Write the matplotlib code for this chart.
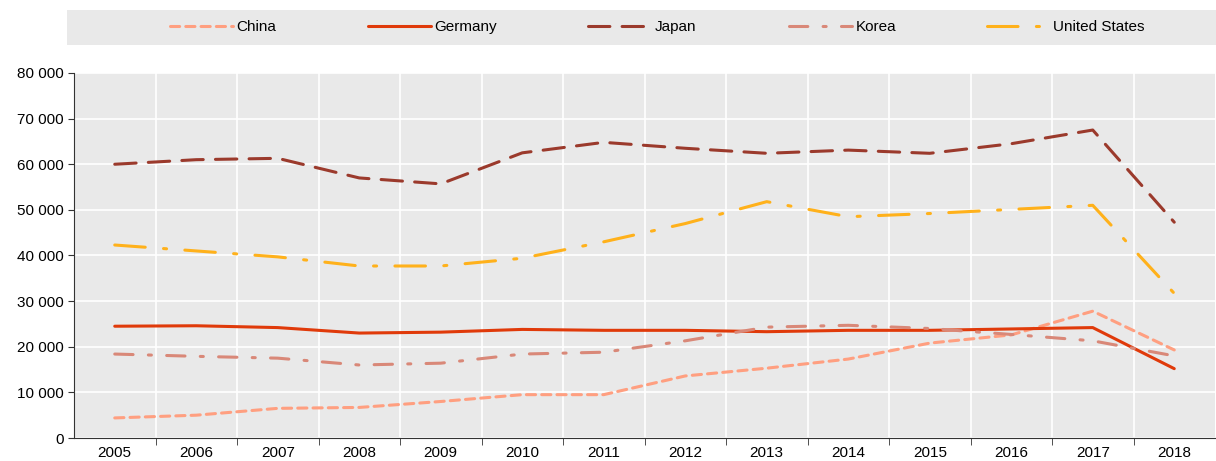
import matplotlib.pyplot as plt
from matplotlib.patches import Rectangle
from matplotlib.ticker import FuncFormatter, MultipleLocator

plt.rcParams['font.family'] = ['Liberation Sans', 'DejaVu Sans']

# data
years = list(range(2005, 2019))
china = [4400, 5000, 6500, 6700, 8000, 9500, 9500, 13600, 15300, 17300, 20800, 22600, 27800, 19300]
germany = [24500, 24600, 24200, 23000, 23200, 23800, 23600, 23600, 23300, 23600, 23600, 23900, 24200, 15200]
japan = [60000, 61000, 61300, 57000, 55700, 62500, 64800, 63500, 62400, 63100, 62400, 64500, 67500, 47300]
korea = [18400, 17900, 17500, 16000, 16400, 18400, 18800, 21300, 24300, 24700, 24000, 22700, 21300, 18000]
usa = [42300, 41000, 39700, 37700, 37700, 39400, 43000, 47000, 51800, 48500, 49200, 50100, 51000, 31700]

series = [
    ("China", china, "#FF9F80", (0, (3, 2))),
    ("Germany", germany, "#E03A0A", "-"),
    ("Japan", japan, "#9B3A2C", (0, (7, 4))),
    ("Korea", korea, "#D98878", (0, (6, 5, 1, 5))),
    ("United States", usa, "#FFB11B", (0, (10, 6, 1, 6))),
]
# left edge of each legend handle, in pixels
legend_x = [170, 368, 588, 789, 987]

fig = plt.figure(figsize=(12.16, 4.61), dpi=100)
ax = fig.add_axes([74 / 1216, 23 / 461, 1141 / 1216, 365 / 461])
ax.set_facecolor("#E9E9E9")

x = list(range(len(years)))
lines = []
for name, vals, col, ls in series:
    ln, = ax.plot(x, vals, color=col, linestyle=ls, linewidth=2.2, label=name,
                  solid_capstyle="round", dash_capstyle="round")
    lines.append(ln)

ax.set_xlim(-0.5, len(years) - 0.5)
ax.set_ylim(0, 80000)
ax.yaxis.set_major_locator(MultipleLocator(10000))
ax.yaxis.set_major_formatter(FuncFormatter(lambda v, p: f"{int(v):,}".replace(",", " ")))
ax.set_xticks(x)
ax.set_xticklabels([str(y) for y in years])
ax.set_xticks([i - 0.5 for i in range(1, len(years))], minor=True)
ax.tick_params(axis="x", which="major", length=0, labelsize=11, pad=6)
ax.tick_params(axis="x", which="minor", length=5, color="#333333")
ax.tick_params(axis="y", length=4, color="#333333", labelsize=11)
ax.grid(True, axis="y", color="white", linewidth=1.2)
ax.grid(True, axis="x", which="minor", color="white", linewidth=1.2)
ax.set_axisbelow(True)
for s in ["top", "right"]:
    ax.spines[s].set_visible(False)
ax.spines["left"].set_color("#333333")
ax.spines["bottom"].set_color("#333333")

# legend band
fig.patches.append(Rectangle((67 / 1216, 1 - 45 / 461), 1 - 67 / 1216, 35 / 461,
                             transform=fig.transFigure, facecolor="#E9E9E9",
                             edgecolor="none", zorder=0))
for ln, lx in zip(lines, legend_x):
    fig.legend(handles=[ln], loc="center left", bbox_to_anchor=(lx / 1216, 1 - 27 / 461),
               frameon=False, fontsize=11, handlelength=4.1, handletextpad=0.25,
               borderpad=0, borderaxespad=0)

fig.savefig("out.png", dpi=100)
